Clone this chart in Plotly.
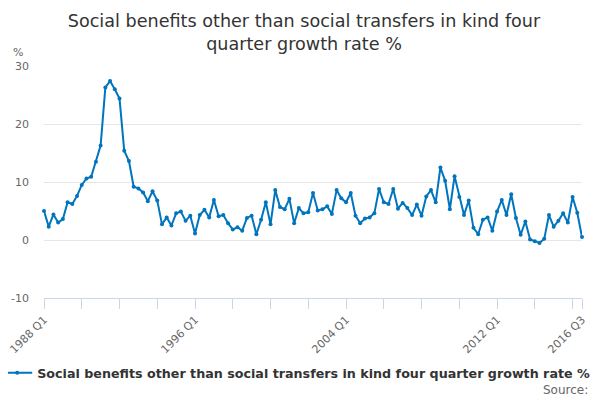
import plotly.graph_objects as go

# Four quarter growth rate, 1988 Q1 to 2016 Q3
growth_rate = [
    5.0, 2.3, 4.4, 3.0, 3.6, 6.5, 6.2, 7.6, 9.5, 10.6,
    10.9, 13.5, 16.3, 26.3, 27.4, 26.0, 24.4, 15.4, 13.6, 9.2,
    8.9, 8.2, 6.7, 8.4, 6.8, 2.7, 3.9, 2.5, 4.6, 4.9,
    3.3, 4.2, 1.1, 4.3, 5.2, 3.9, 6.9, 4.1, 4.3, 2.9,
    1.8, 2.2, 1.6, 3.8, 4.2, 1.0, 3.5, 6.5, 2.7, 8.6,
    5.7, 5.3, 7.1, 2.9, 5.5, 4.6, 4.8, 8.1, 5.1, 5.3,
    5.8, 4.5, 8.6, 7.2, 6.5, 8.1, 4.2, 2.9, 3.7, 3.9,
    4.6, 8.8, 6.5, 6.2, 8.8, 5.4, 6.4, 5.5, 4.3, 6.1,
    4.2, 7.5, 8.6, 6.5, 12.5, 10.2, 5.3, 11.0, 7.4, 4.3,
    6.8, 2.1, 1.0, 3.5, 3.9, 1.6, 4.9, 6.9, 4.3, 7.9,
    3.8, 0.9, 3.2, 0.1, -0.2, -0.5, 0.2, 4.3, 2.3, 3.3,
    4.6, 3.0, 7.4, 4.7, 0.5,
]

# category labels "1988 Q1" ... "2016 Q3"
quarters = [f"{1988 + i // 4} Q{i % 4 + 1}" for i in range(len(growth_rate))]

labelled = ["1988 Q1", "1996 Q1", "2004 Q1", "2012 Q1", "2016 Q3"]
tick_vals = quarters[::8] + [quarters[-1]]
tick_text = [q if q in labelled else "" for q in tick_vals]

y_ticks = [-10, 0, 10, 20, 30]
y_tick_text = ["-10", "0", "10", "20", "30"]

series_name = "Social benefits other than social transfers in kind four quarter growth rate %"

fig = go.Figure()
fig.add_trace(go.Scatter(
    x=quarters,
    y=growth_rate,
    mode="lines+markers",
    name=series_name,
    line=dict(color="#0075be", width=2),
    marker=dict(color="#0075be", size=4),
    cliponaxis=False,
))

# the page puts the figure 8px in from the corner, so it is drawn 8px smaller
fig.update_layout(
    width=592,
    height=392,
    paper_bgcolor="white",
    plot_bgcolor="white",
    font=dict(family="DejaVu Sans", color="#333333"),
    margin=dict(l=36, r=18, t=58, b=102, autoexpand=False),
    title=dict(
        text="Social benefits other than social transfers in kind four<br>quarter growth rate %",
        x=0.5, xanchor="center",
        y=0.952, yanchor="top",
        font=dict(size=17.6, color="#333333"),
    ),
    showlegend=True,
    legend=dict(
        orientation="h",
        x=-0.087, xanchor="left",
        y=-0.323, yanchor="middle",
        font=dict(size=12.7, color="#333333", weight="bold"),
        itemwidth=30,
    ),
    xaxis=dict(
        type="category",
        range=[0, len(quarters) - 1],
        automargin=False,
        tickmode="array",
        tickvals=tick_vals,
        ticktext=tick_text,
        tickangle=-45,
        ticks="outside",
        ticklen=10,
        tickcolor="#ccd6eb",
        showline=True,
        linecolor="#ccd6eb",
        linewidth=1,
        showgrid=False,
        tickfont=dict(size=11, color="#666666"),
    ),
    yaxis=dict(
        range=[-10, 30],
        automargin=False,
        tickmode="array",
        tickvals=y_ticks,
        ticktext=y_tick_text,
        showgrid=True,
        gridcolor="#e6e6e6",
        zeroline=False,
        ticklabelstandoff=14,
        tickfont=dict(size=11, color="#666666"),
    ),
    annotations=[
        dict(text="%", xref="paper", yref="paper", x=-0.061, y=1.06,
             xanchor="left", yanchor="middle", showarrow=False,
             font=dict(size=11, color="#666666")),
        dict(text="Source:", xref="paper", yref="paper", x=1.015, y=-0.397,
             xanchor="right", yanchor="middle", showarrow=False,
             font=dict(size=12, color="#666666")),
    ],
)

fig.write_html("out.html")
